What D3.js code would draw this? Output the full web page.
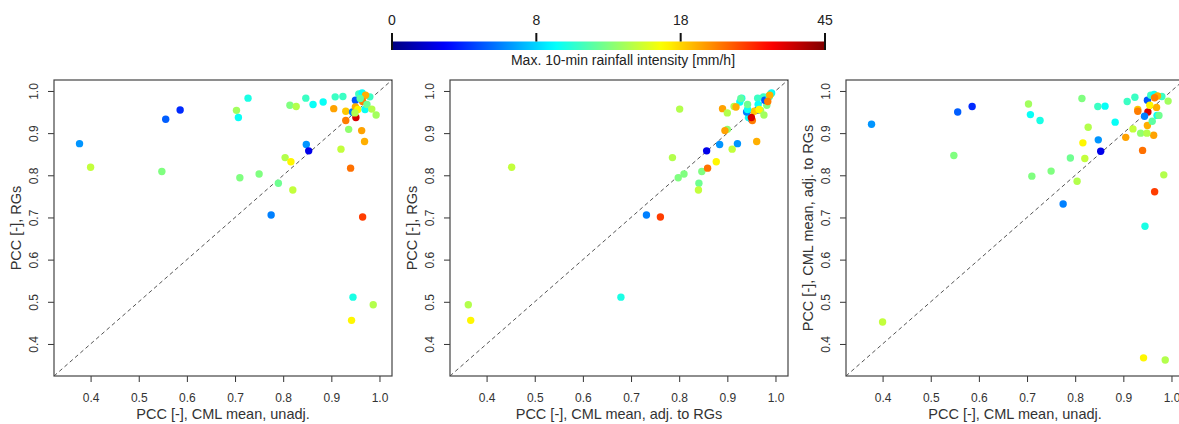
<!DOCTYPE html>
<html lang="en">
<head>
    <meta charset="UTF-8">
    <title>PCC scatter plots</title>
    <script src="https://d3js.org/d3.v7.min.js"></script>
    <style>
        body { margin: 0; padding: 0; background: #fff; }
        svg { display: block; font-family: "Liberation Sans", Arial, sans-serif; }
        .axis text { fill: #333; font-size: 12px; }
        .axis line { stroke: #333; }
    </style>
</head>
<body>
    <svg id="chart" width="1179" height="424"></svg>

    <script>
        // PCC of CML mean (unadjusted), CML mean (adjusted to RGs), RGs, per event
        const pccUnadj = [0.377, 0.400, 0.556, 0.586, 0.548, 0.703, 0.707, 0.727, 0.710, 0.750,
                          0.775, 0.790, 0.804, 0.816, 0.820, 0.814, 0.827, 0.847, 0.862, 0.883,
                          0.848, 0.853, 0.905, 0.908, 0.924, 0.930, 0.930, 0.936, 0.920, 0.940,
                          0.945, 0.942, 0.987, 0.965, 0.963, 0.969, 0.951, 0.944, 0.950, 0.957,
                          0.964, 0.980, 0.971, 0.965, 0.950, 0.955, 0.970, 0.974, 0.993, 0.984,
                          0.949, 0.960];
        const pccAdj   = [0.921, 0.452, 0.950, 0.963, 0.847, 0.969, 0.944, 0.930, 0.798, 0.810,
                          0.732, 0.841, 0.786, 0.877, 0.840, 0.982, 0.914, 0.963, 0.964, 0.926,
                          0.884, 0.857, 0.890, 0.975, 0.985, 0.956, 0.952, 0.900, 0.910, 0.859,
                          0.679, 0.367, 0.362, 0.761, 0.895, 0.961, 0.950, 0.940, 0.978, 0.990,
                          0.992, 0.987, 0.988, 0.984, 0.918, 0.966, 0.942, 0.942, 0.976, 0.801,
                          0.900, 0.928];
        const pccRG    = [0.875, 0.819, 0.933, 0.955, 0.809, 0.954, 0.937, 0.983, 0.794, 0.803,
                          0.706, 0.781, 0.842, 0.832, 0.765, 0.966, 0.963, 0.983, 0.968, 0.974,
                          0.873, 0.858, 0.958, 0.986, 0.987, 0.952, 0.930, 0.909, 0.862, 0.817,
                          0.511, 0.456, 0.493, 0.701, 0.906, 0.880, 0.937, 0.950, 0.978, 0.993,
                          0.995, 0.986, 0.990, 0.975, 0.962, 0.956, 0.956, 0.968, 0.943, 0.957,
                          0.948, 0.982];
        // max 10-min rainfall intensity [mm/h]
        const maxIntensity = [6.5, 15, 5.2, 4, 13, 14, 9.5, 10, 13, 13,
                              6, 12.5, 14.5, 17, 15, 13, 14.5, 11, 9.5, 9.5,
                              6.5, 2.5, 22, 11, 11, 19, 25, 13.5, 15, 26,
                              10, 17, 14.5, 30, 22, 21, 38, 6, 5, 11,
                              9.5, 11, 21, 25, 21, 17, 9.5, 12.5, 14, 14.5,
                              14.5, 12];

        const axisTicks = [0.4, 0.5, 0.6, 0.7, 0.8, 0.9, 1.0];
        const colorTicks = [0, 8, 18, 45];

        const panels = [
            { x: pccUnadj, y: pccRG,  xLabel: "PCC [-], CML mean, unadj.",        yLabel: "PCC [-], RGs" },
            { x: pccAdj,   y: pccRG,  xLabel: "PCC [-], CML mean, adj. to RGs",   yLabel: "PCC [-], RGs" },
            { x: pccUnadj, y: pccAdj, xLabel: "PCC [-], CML mean, unadj.",        yLabel: "PCC [-], CML mean, adj. to RGs" }
        ];

        // jet colour map
        function jet(t) {
            const r = Math.max(0, Math.min(1, Math.min(4 * t - 1.5, -4 * t + 4.5)));
            const g = Math.max(0, Math.min(1, Math.min(4 * t - 0.5, -4 * t + 3.5)));
            const b = Math.max(0, Math.min(1, Math.min(4 * t + 0.5, -4 * t + 2.5)));
            return d3.rgb(r * 255, g * 255, b * 255).toString();
        }
        const intensityPos = d3.scaleLinear().domain(colorTicks).range([0, 1 / 3, 2 / 3, 1]).clamp(true);
        const colorOf = v => jet(intensityPos(v));

        const svg = d3.select("#chart");

        // colour bar
        const cbLeft = 392, cbRight = 825, cbTop = 41.5, cbBottom = 50;
        const cbScale = d3.scaleLinear().domain(colorTicks)
            .range(d3.range(4).map(i => cbLeft + i * (cbRight - cbLeft) / 3));

        const grad = svg.append("defs").append("linearGradient").attr("id", "jetGrad");
        d3.range(0, 1.0001, 0.02).forEach(t => {
            grad.append("stop").attr("offset", t).attr("stop-color", jet(t));
        });
        svg.append("rect")
            .attr("x", cbLeft).attr("y", cbTop)
            .attr("width", cbRight - cbLeft).attr("height", cbBottom - cbTop)
            .attr("fill", "url(#jetGrad)");

        svg.selectAll(".cbtick").data(colorTicks).enter().append("line")
            .attr("x1", d => cbScale(d)).attr("x2", d => cbScale(d))
            .attr("y1", 33).attr("y2", (d, i) => (i === 0 || i === colorTicks.length - 1) ? cbBottom : cbTop)
            .attr("stroke", "#111").attr("stroke-width", 2);

        svg.selectAll(".cblabel").data(colorTicks).enter().append("text")
            .attr("x", d => cbScale(d)).attr("y", 25)
            .attr("text-anchor", "middle")
            .attr("font-size", 14).attr("fill", "#222")
            .text(d => d);

        svg.append("text")
            .attr("x", 623).attr("y", 65)
            .attr("text-anchor", "middle")
            .attr("font-size", 14).attr("fill", "#222")
            .text("Max. 10-min rainfall intensity [mm/h]");

        // scatter panels
        const panelLefts = [54, 450, 846];
        const pw = 338, plotTop = 80, ph = 296;
        const domain = [0.324, 1.026];

        panels.forEach((p, k) => {
            const g = svg.append("g").attr("transform", `translate(${panelLefts[k]},${plotTop})`);
            const x = d3.scaleLinear().domain(domain).range([0, pw]);
            const y = d3.scaleLinear().domain(domain).range([ph, 0]);

            g.append("clipPath").attr("id", "clip" + k)
                .append("rect").attr("width", pw).attr("height", ph);

            // 1:1 line
            g.append("line")
                .attr("clip-path", `url(#clip${k})`)
                .attr("x1", x(domain[0])).attr("y1", y(domain[0]))
                .attr("x2", x(domain[1])).attr("y2", y(domain[1]))
                .attr("stroke", "#555").attr("stroke-width", 1)
                .attr("stroke-dasharray", "4,3");

            const pts = p.x.map((v, i) => ({ x: v, y: p.y[i], c: maxIntensity[i] }));
            g.selectAll("circle").data(pts).enter().append("circle")
                .attr("cx", d => x(d.x)).attr("cy", d => y(d.y))
                .attr("r", 3.7)
                .attr("fill", d => colorOf(d.c));

            // axes
            const xAxis = g.append("g").attr("class", "axis")
                .attr("transform", `translate(0,${ph})`)
                .call(d3.axisBottom(x).tickValues(axisTicks).tickFormat(d3.format(".1f")).tickSize(6).tickPadding(11));
            xAxis.select(".domain").remove();

            const yAxis = g.append("g").attr("class", "axis")
                .call(d3.axisLeft(y).tickValues(axisTicks).tickFormat(d3.format(".1f")).tickSize(6));
            yAxis.select(".domain").remove();
            yAxis.selectAll("text")
                .attr("transform", "rotate(-90)")
                .attr("x", 0).attr("y", -16).attr("dy", 0)
                .attr("text-anchor", "middle");

            g.append("rect")
                .attr("width", pw).attr("height", ph)
                .attr("fill", "none").attr("stroke", "#444").attr("stroke-width", 1.2);

            g.append("text")
                .attr("x", pw / 2).attr("y", ph + 42.5)
                .attr("text-anchor", "middle")
                .attr("font-size", 14.5).attr("fill", "#333")
                .text(p.xLabel);

            g.append("text")
                .attr("transform", "rotate(-90)")
                .attr("x", -ph / 2).attr("y", -33)
                .attr("text-anchor", "middle")
                .attr("font-size", 14.5).attr("fill", "#333")
                .text(p.yLabel);
        });
    </script>
</body>
</html>
